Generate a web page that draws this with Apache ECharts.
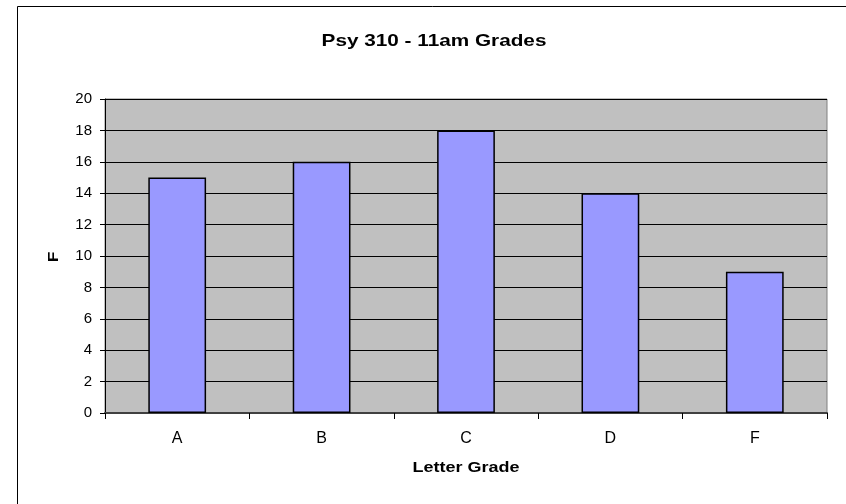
<!DOCTYPE html>
<html><head><meta charset="utf-8">
<script src="https://cdn.jsdelivr.net/npm/echarts@6/dist/echarts.min.js"></script>
<style>html,body{margin:0;padding:0;background:#fff}#c{width:846px;height:504px}</style>
</head><body><div id="c"></div>
<script>
const categories = ['A','B','C','D','F'];
const counts = [15,16,18,14,9];
const yTicks = [0,2,4,6,8,10,12,14,16,18,20];
const titleText = 'Psy 310 - 11am Grades';
const xName = 'Letter Grade';
const yName = 'F';

const chart = echarts.init(document.getElementById('c'));
const font = '"Liberation Sans", Arial, sans-serif';
chart.setOption({
  animation: false,
  backgroundColor: '#fff',
  graphic: [
    {type: 'rect', shape: {x: 17.5, y: 6.5, width: 840, height: 510},
     style: {fill: 'none', stroke: '#000', lineWidth: 1}},
    {type: 'text', x: 434, y: 41, scaleX: 1.22,
     style: {text: titleText, font: 'bold 17px ' + font, fill: '#000', textAlign: 'center', textVerticalAlign: 'middle'}},
    {type: 'text', x: 466, y: 468, scaleX: 1.24,
     style: {text: xName, font: 'bold 14.5px ' + font, fill: '#000', textAlign: 'center', textVerticalAlign: 'middle'}},
    {type: 'text', x: 54, y: 257, rotation: Math.PI / 2, scaleX: 1.2,
     style: {text: yName, font: 'bold 14.5px ' + font, fill: '#000', textAlign: 'center', textVerticalAlign: 'middle'}}
  ],
  grid: {left: 105, top: 99, right: 19, bottom: 91, show: true, backgroundColor: '#C0C0C0', borderColor: '#808080', borderWidth: 1},
  xAxis: {
    type: 'category', data: categories,
    axisLine: {lineStyle: {color: '#404040', width: 2}},
    axisTick: {show: true, length: 6, alignWithLabel: false, lineStyle: {color: '#000'}},
    axisLabel: {fontFamily: font, fontSize: 16, color: '#000', margin: 18}
  },
  yAxis: {
    type: 'value', min: 0, max: 20, interval: 2,
    axisLine: {show: true, lineStyle: {color: '#000'}},
    axisTick: {show: true, length: 5, lineStyle: {color: '#000'}},
    axisLabel: {fontFamily: font, fontSize: 15, color: '#000', margin: 13,
      formatter: v => yTicks.includes(v) ? String(v) : ''},
    splitLine: {show: true, lineStyle: {color: '#000', width: 1}}
  },
  series: [{
    type: 'bar', data: counts, barWidth: '40%',
    itemStyle: {color: '#9999FF', borderColor: '#000', borderWidth: 1.5}
  }]
});
</script></body></html>
